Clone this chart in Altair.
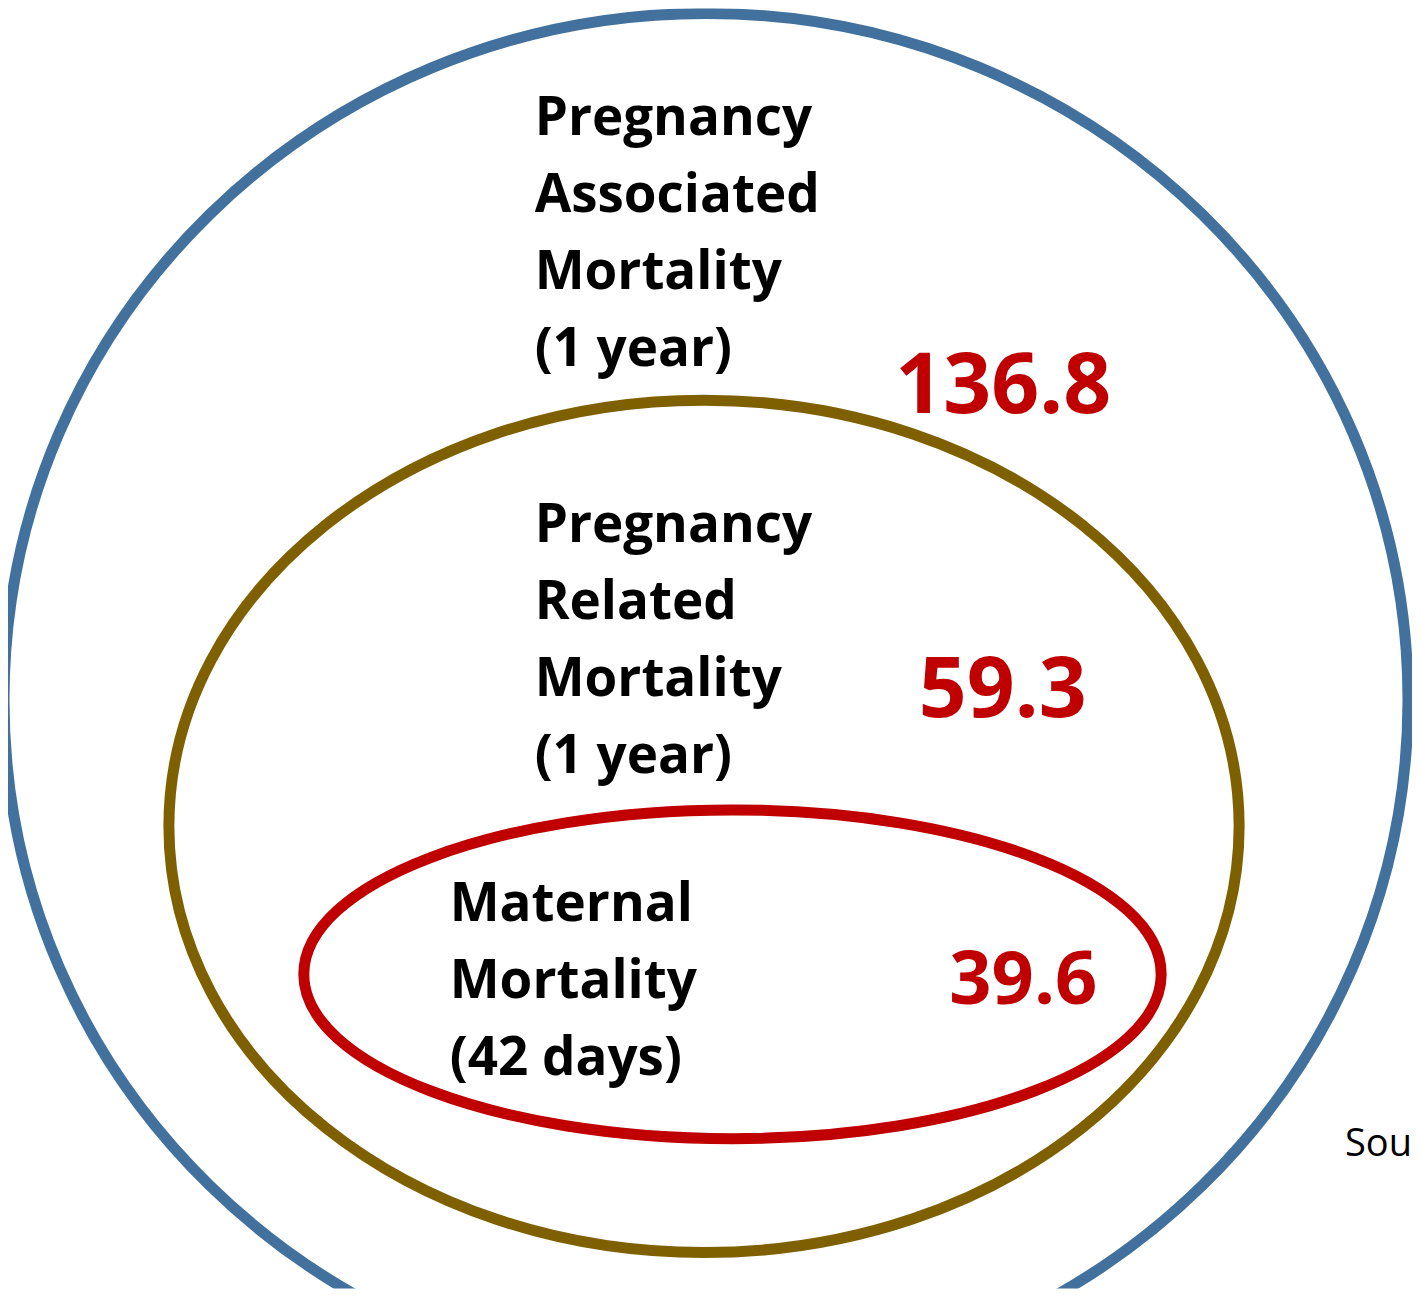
import altair as alt
import pandas as pd

# ---- chart content ----
categories = [
    "Pregnancy Associated Mortality (1 year)",
    "Pregnancy Related Mortality (1 year)",
    "Maternal Mortality (42 days)",
]
label_lines = [
    ["Pregnancy", "Associated", "Mortality", "(1 year)"],
    ["Pregnancy", "Related", "Mortality", "(1 year)"],
    ["Maternal", "Mortality", "(42 days)"],
]
values = [136.8, 59.3, 39.6]
source_text = "Sou"

# ---- layout (page pixel coordinates) ----
ell_cx = [706.5, 704.5, 733.0]
ell_cy = [700.0, 826.5, 974.5]
ell_rx = [702.5, 535.5, 429.0]
ell_ry = [687.0, 426.5, 164.5]
ell_color = ["#41719C", "#7F6000", "#C00000"]
label_x = [535, 535, 450]
label_y = [135, 542, 921]
value_x = [1004, 1003.5, 1024]
value_y = [413, 717, 1004]
value_size = [84, 84, 74]
source_x, source_y = 1346, 1156

W, H = 1405, 1281
X0, Y0 = 8, 8


def ellipse_path(a, k=0.5523):
    ka = k * a
    return (f"M 1 0 C 1 {ka} {k} {a} 0 {a} C {-k} {a} -1 {ka} -1 0 "
            f"C -1 {-ka} {-k} {-a} 0 {-a} C {k} {-a} 1 {-ka} 1 0 Z")


ell_df = pd.DataFrame({
    "category": categories,
    "cx": ell_cx,
    "cy": ell_cy,
    "path": [ellipse_path(ry / rx) for rx, ry in zip(ell_rx, ell_ry)],
    "size": [(2 * rx) ** 2 for rx in ell_rx],
    "color": ell_color,
    "order": [0, 1, 2],
})

lab_df = pd.DataFrame({
    "category": categories,
    "label": ["\n".join(l) for l in label_lines],
    "x": label_x,
    "y": label_y,
})

val_df = pd.DataFrame({
    "category": categories,
    "value": [f"{v:.1f}" for v in values],
    "x": value_x,
    "y": value_y,
    "fs": value_size,
})

src_df = pd.DataFrame({"text": [source_text], "x": [source_x], "y": [source_y]})

xs = alt.Scale(domain=[X0, X0 + W], range=[0, W], nice=False, zero=False)
ys = alt.Scale(domain=[Y0, Y0 + H], reverse=True, nice=False, zero=False)

ellipses = alt.Chart(ell_df).mark_point(
    filled=False, opacity=1, strokeWidth=11, clip=True
).encode(
    x=alt.X("cx:Q", scale=xs, axis=None),
    y=alt.Y("cy:Q", scale=ys, axis=None),
    shape=alt.Shape("path:N", scale=None, legend=None),
    size=alt.Size("size:Q", scale=None, legend=None),
    stroke=alt.Stroke("color:N", scale=None, legend=None),
    order=alt.Order("order:Q"),
)

labels = alt.Chart(lab_df).mark_text(
    align="left", baseline="alphabetic", lineBreak="\n", lineHeight=77,
    font="Open Sans", fontWeight="bold", fontSize=53, color="#000000"
).encode(
    x=alt.X("x:Q", scale=xs, axis=None),
    y=alt.Y("y:Q", scale=ys, axis=None),
    text="label:N",
)

nums = alt.Chart(val_df).mark_text(
    align="center", baseline="alphabetic",
    font="Open Sans", fontWeight="bold", color="#C00000"
).encode(
    x=alt.X("x:Q", scale=xs, axis=None),
    y=alt.Y("y:Q", scale=ys, axis=None),
    text="value:N",
    size=alt.Size("fs:Q", scale=None, legend=None),
)

src = alt.Chart(src_df).mark_text(
    align="left", baseline="alphabetic", font="Open Sans", fontSize=38,
    color="#000000"
).encode(
    x=alt.X("x:Q", scale=xs, axis=None),
    y=alt.Y("y:Q", scale=ys, axis=None),
    text="text:N",
)

chart = alt.layer(ellipses, labels, nums, src).properties(
    width=W, height=H, padding=0, background="white"
).configure_view(stroke=None)

chart.save("out.html", embed_options={"renderer": "svg", "actions": False})
